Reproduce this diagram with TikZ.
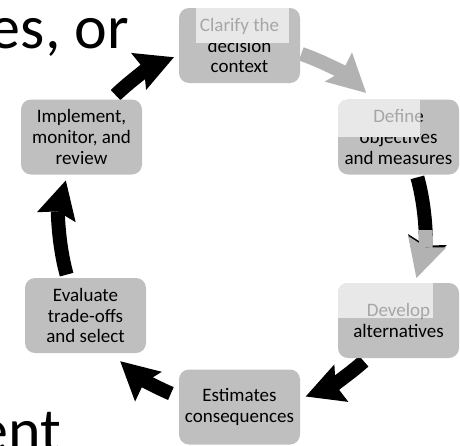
\documentclass[tikz,border=0pt]{standalone}
\usepackage{fontspec}
\setmainfont{Carlito}
\usetikzlibrary{arrows.meta,calc}
\definecolor{boxfill}{RGB}{191,191,191}
\definecolor{arrowgray}{RGB}{178,178,178}
\definecolor{veil}{RGB}{232,232,232}
\definecolor{fadedtext}{RGB}{166,166,166}
\begin{document}
\begin{tikzpicture}[x=1pt,y=-1pt,
  stage/.style={rectangle, rounded corners=10pt, fill=boxfill, minimum width=121pt,
    minimum height=75pt, inner sep=0pt, align=center,
    font=\fontsize{19}{20.7}\selectfont, text=black},
  ghost/.style={stage, fill=none, text=fadedtext},
  loop arrow/.style={line width=14pt,
    -{Stealth[length=38pt,width=40pt,inset=6pt,line width=0pt]}},
  backdrop/.style={font=\fontsize{62}{70}\selectfont, inner sep=0pt}]
\useasboundingbox (0,0) rectangle (460,445);
\clip (0,0) rectangle (460,445);

% large slide text behind the cycle
\node[backdrop, anchor=base east] (title1) at (129,48) {es, or};
\node[backdrop, anchor=base east] (title2) at (61,451) {ent};

% centre of the cycle
\coordinate (hub) at (242,226);

% arrows between the stages (clockwise)
\draw[loop arrow, arrowgray] ($(hub)+(-71:182)$) arc[start angle=-71, end angle=-47, radius=182];
\draw[loop arrow, black] ($(hub)+(-15.5:182)$) arc[start angle=-15.5, end angle=16, radius=182];
\begin{scope}
  \clip (380,230) rectangle (460,290);
  \draw[loop arrow, arrowgray] ($(hub)+(-15.5:182)$) arc[start angle=-15.5, end angle=16.6, radius=182];
\end{scope}
\draw[loop arrow, black] ($(hub)+(48:182)$) arc[start angle=48, end angle=69.5, radius=182];
\draw[loop arrow, black] ($(hub)+(113:182)$) arc[start angle=113, end angle=132, radius=182];
\draw[loop arrow, black] ($(hub)+(-195.5:182)$) arc[start angle=-195.5, end angle=-165.5, radius=182];
\draw[loop arrow, black] ($(hub)+(-134:182)$) arc[start angle=-134, end angle=-112, radius=182];

% stages
\node[stage] (clarify) at (239.5,45.5) {Clarify the\\decision\\context};
\node[stage] (define) at (398.5,137) {Define\\objectives\\and measures};
\node[stage] (develop) at (398.5,320.5) {Develop\\alternatives};
\node[stage] (estimate) at (239.5,407) {Estimates\\consequences};
\node[stage] (evaluate) at (85.5,315.5) {Evaluate\\trade-offs\\and select};
\node[stage] (implement) at (81.5,137) {Implement,\\monitor, and\\review};

% pale panels over the first line of three stages
\begin{scope}
  \clip (196,8) rectangle (289,43);
  \fill[veil] (196,8) rectangle (289,43);
  \node[ghost] (clarifyghost) at (clarify.center) {Clarify the\\\phantom{decision}\\\phantom{context}};
\end{scope}
\begin{scope}
  \clip[rounded corners=10pt] (define.north west) rectangle (define.south east);
  \clip (338,100) rectangle (420,137);
  \fill[veil] (338,100) rectangle (420,137);
  \node[ghost] (defineghost) at (define.center) {Define\\\phantom{objectives}\\\phantom{and measures}};
\end{scope}
\begin{scope}
  \clip[rounded corners=10pt] (develop.north west) rectangle (develop.south east);
  \clip (338,283) rectangle (433,318);
  \fill[veil] (338,283) rectangle (433,318);
  \node[ghost] (developghost) at (develop.center) {Develop\\\phantom{alternatives}};
\end{scope}
\end{tikzpicture}
\end{document}
